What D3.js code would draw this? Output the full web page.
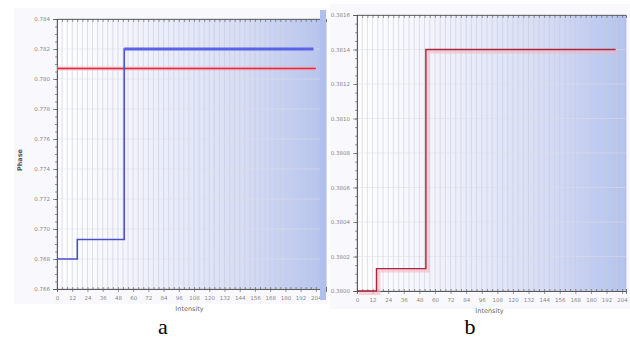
<!DOCTYPE html>
<html>
<head>
<meta charset="utf-8">
<script src="https://cdn.jsdelivr.net/npm/d3@7"></script>
<style>
  body { margin: 0; background: #fff; }
  svg { display: block; }
</style>
</head>
<body>
<svg id="chart" width="630" height="345"></svg>
<script>
// panel a: phase vs intensity (step line + reference level)
const intensityA = [0, 16, 53, 202];
const phaseA = [0.768, 0.7693, 0.782, 0.782];
const refIntensityA = [0, 204];
const refPhaseA = [0.7807, 0.7807];
const yTicksA = [0.766, 0.768, 0.770, 0.772, 0.774, 0.776, 0.778, 0.780, 0.782, 0.784];

// panel b
const intensityB = [0, 15, 53, 199];
const phaseB = [0.3800, 0.38013, 0.3814, 0.3814];
const yTicksB = [0.3800, 0.3802, 0.3804, 0.3806, 0.3808, 0.3810, 0.3812, 0.3814, 0.3816];

const xTicks = d3.range(0, 205, 12);

const svg = d3.select("#chart");

const defs = svg.append("defs");
function gradient(id) {
  const g = defs.append("linearGradient").attr("id", id)
    .attr("x1", "0%").attr("x2", "100%").attr("y1", "0%").attr("y2", "0%");
  g.append("stop").attr("offset", "0%").attr("stop-color", "#ffffff");
  g.append("stop").attr("offset", "25%").attr("stop-color", "#f4f5fc");
  g.append("stop").attr("offset", "70%").attr("stop-color", "#d6dcf5");
  g.append("stop").attr("offset", "100%").attr("stop-color", "#b3c2ef");
}
gradient("bgA");
gradient("bgB");

function panel(opts) {
  const { left, right, top, bottom, xMax, yDomain, yTicks, fmt, bg } = opts;
  const x = d3.scaleLinear().domain([0, xMax]).range([left, right]);
  const y = d3.scaleLinear().domain(yDomain).range([bottom, top]);
  const g = svg.append("g");

  // outer frame
  g.append("rect")
    .attr("x", opts.frame[0]).attr("y", opts.frame[1])
    .attr("width", opts.frame[2]).attr("height", opts.frame[3])
    .attr("fill", "#f9f9fd");

  g.append("rect")
    .attr("x", left).attr("y", top)
    .attr("width", right - left).attr("height", bottom - top)
    .attr("fill", `url(#${bg})`);

  // vertical grid
  g.append("g").selectAll("line")
    .data(d3.range(0, xMax + 0.1, 4))
    .join("line")
    .attr("x1", d => x(d)).attr("x2", d => x(d))
    .attr("y1", top).attr("y2", bottom)
    .attr("stroke", "#c9cbd8").attr("stroke-width", 0.6);

  // horizontal grid
  g.append("g").selectAll("line")
    .data(yTicks)
    .join("line")
    .attr("x1", left).attr("x2", right)
    .attr("y1", d => y(d)).attr("y2", d => y(d))
    .attr("stroke", "#dcdde6").attr("stroke-width", 0.5);

  // border
  g.append("rect")
    .attr("x", left).attr("y", top)
    .attr("width", right - left).attr("height", bottom - top)
    .attr("fill", "none").attr("stroke", "#b8bccc").attr("stroke-width", 0.8);

  const yAxis = g.append("g")
    .attr("transform", `translate(${left},0)`)
    .call(d3.axisLeft(y).tickValues(yTicks).tickFormat(fmt).tickSize(4).tickPadding(3));
  const step = yTicks[1] - yTicks[0];
  g.append("g")
    .attr("transform", `translate(${left},0)`)
    .call(d3.axisLeft(y).tickValues(d3.range(yDomain[0], yDomain[1], step / 4)).tickFormat("").tickSize(2));

  const xAxis = g.append("g")
    .attr("transform", `translate(0,${bottom})`)
    .call(d3.axisBottom(x).tickValues(xTicks).tickSize(3).tickPadding(4));
  g.append("g")
    .attr("transform", `translate(0,${bottom})`)
    .call(d3.axisBottom(x).tickValues(d3.range(0, xMax, 4)).tickFormat("").tickSize(-2));
  g.append("g")
    .attr("transform", `translate(0,${top})`)
    .call(d3.axisBottom(x).tickValues(d3.range(0, xMax, 4)).tickFormat("").tickSize(3));

  g.selectAll(".domain").attr("stroke", "#555").attr("stroke-width", 0.8);
  g.selectAll(".tick line").attr("stroke", "#555").attr("stroke-width", 0.6);
  g.selectAll(".tick text")
    .attr("fill", "#888").attr("font-size", 5.5)
    .attr("font-family", "DejaVu Sans, sans-serif");

  g.append("text")
    .attr("x", (left + right) / 2 - 2).attr("y", bottom + 22)
    .attr("text-anchor", "middle")
    .attr("font-family", "DejaVu Sans, sans-serif")
    .attr("font-size", 6.5).attr("fill", "#666")
    .text("Intensity");

  return { x, y, g };
}

// panel a
const pa = panel({
  left: 57, right: 326, top: 19, bottom: 289, xMax: 212,
  yDomain: [0.766, 0.784], yTicks: yTicksA, fmt: d3.format(".3f"),
  bg: "bgA", frame: [14, 8, 313, 296]
});
pa.g.append("text")
  .attr("transform", "translate(22,160) rotate(-90)")
  .attr("text-anchor", "middle")
  .attr("font-family", "DejaVu Sans, sans-serif")
  .attr("font-size", 6.5).attr("font-weight", "bold").attr("fill", "#555")
  .text("Phase");

const lineA = d3.line()
  .x(d => pa.x(d[0])).y(d => pa.y(d[1]))
  .curve(d3.curveStepAfter);

pa.g.append("path")
  .datum(d3.zip(refIntensityA, refPhaseA))
  .attr("d", lineA)
  .attr("fill", "none").attr("stroke", "#f7a8b8").attr("stroke-width", 4).attr("opacity", 0.6);
pa.g.append("path")
  .datum(d3.zip(refIntensityA, refPhaseA))
  .attr("d", lineA)
  .attr("fill", "none").attr("stroke", "#e02a3a").attr("stroke-width", 1.4);

pa.g.append("path")
  .datum(d3.zip(intensityA, phaseA))
  .attr("d", lineA)
  .attr("fill", "none").attr("stroke", "#4b4fc8").attr("stroke-width", 1.6);
// thicker upper plateau
pa.g.append("path")
  .datum(d3.zip(intensityA.slice(2), phaseA.slice(2)))
  .attr("d", lineA)
  .attr("fill", "none").attr("stroke", "#5a63e6").attr("stroke-width", 3);

// panel b
const pb = panel({
  left: 357, right: 626, top: 15, bottom: 291, xMax: 207,
  yDomain: [0.3800, 0.3816], yTicks: yTicksB, fmt: d3.format(".4f"),
  bg: "bgB", frame: [330, 4, 300, 305]
});

// sliver of the neighbouring plot at the left edge of panel b
svg.append("rect")
  .attr("x", 320).attr("y", 10).attr("width", 6).attr("height", 290)
  .attr("fill", "#b0bfee");

const lineB = d3.line()
  .x(d => pb.x(d[0])).y(d => pb.y(d[1]))
  .curve(d3.curveStepAfter);

pb.g.append("path")
  .datum(d3.zip(intensityB, phaseB))
  .attr("d", lineB)
  .attr("fill", "none").attr("stroke", "#f5b5c2").attr("stroke-width", 4).attr("opacity", 0.6)
  .attr("transform", "translate(2,2)");
pb.g.append("path")
  .datum(d3.zip(intensityB, phaseB))
  .attr("d", lineB)
  .attr("fill", "none").attr("stroke", "#a8283c").attr("stroke-width", 1.4);

// sub-figure labels
svg.selectAll("text.sub")
  .data([["a", 163], ["b", 470]])
  .join("text")
  .attr("class", "sub")
  .attr("x", d => d[1]).attr("y", 334)
  .attr("text-anchor", "middle")
  .attr("font-family", "Liberation Serif, serif")
  .attr("font-size", 22).attr("fill", "#000")
  .text(d => d[0]);
</script>
</body>
</html>
